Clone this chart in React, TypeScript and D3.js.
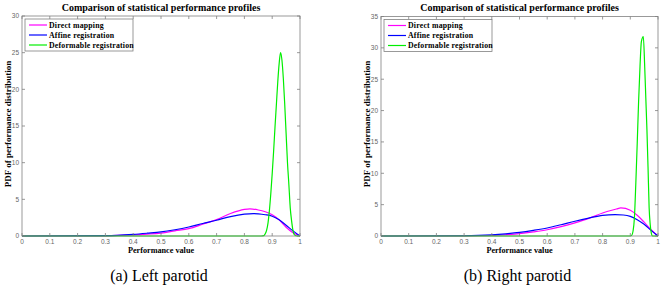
import React from "react";
import * as d3 from "d3";

// ---------- data ----------
const xTickValues = [0, 0.1, 0.2, 0.3, 0.4, 0.5, 0.6, 0.7, 0.8, 0.9, 1];
const seriesNames = ["Direct mapping", "Affine registration", "Deformable registration"];
const seriesColors = ["#ff00ff", "#0000ff", "#00ee00"];

// Left parotid
const leftDirectX = [0, 0.3, 0.4, 0.45, 0.5, 0.55, 0.6, 0.65, 0.7, 0.75, 0.8, 0.82, 0.85, 0.875, 0.9, 0.925, 0.95, 0.975, 1];
const leftDirectY = [0, 0.03, 0.14, 0.25, 0.4, 0.7, 1.0, 1.6, 2.24, 3.06, 3.62, 3.7, 3.55, 3.3, 2.9, 2.2, 1.2, 0.45, 0];
const leftAffineX = [0, 0.3, 0.4, 0.45, 0.5, 0.55, 0.6, 0.65, 0.7, 0.75, 0.8, 0.832, 0.85, 0.875, 0.9, 0.925, 0.95, 0.975, 1];
const leftAffineY = [0, 0.05, 0.23, 0.38, 0.55, 0.85, 1.23, 1.7, 2.15, 2.65, 2.98, 3.06, 3.02, 2.9, 2.7, 2.2, 1.46, 0.7, 0];
const leftDeformX = [0, 0.86, 0.87, 0.875, 0.88, 0.885, 0.89, 0.895, 0.9, 0.905, 0.91, 0.915, 0.92, 0.925, 0.93, 0.935, 0.94, 0.945, 0.95, 0.955, 0.96, 0.965, 0.97, 0.975, 0.98, 0.99, 1];
const leftDeformY = [0, 0, 0.05, 0.3, 0.8, 1.8, 3.5, 5.8, 8.5, 11.5, 14.8, 17.9, 21, 23.5, 25, 24, 21.5, 18, 14, 10, 7, 3.8, 2, 0.7, 0.15, 0, 0];

// Right parotid
const rightDirectX = [0, 0.3, 0.4, 0.45, 0.5, 0.55, 0.6, 0.65, 0.7, 0.75, 0.8, 0.85, 0.866, 0.9, 0.925, 0.95, 0.975, 1];
const rightDirectY = [0, 0.01, 0.08, 0.2, 0.37, 0.65, 1.0, 1.5, 2.1, 2.8, 3.67, 4.3, 4.47, 4.1, 3.3, 2.2, 1.0, 0];
const rightAffineX = [0, 0.3, 0.4, 0.45, 0.5, 0.55, 0.6, 0.65, 0.7, 0.75, 0.8, 0.845, 0.875, 0.9, 0.925, 0.95, 0.975, 1];
const rightAffineY = [0, 0.04, 0.18, 0.35, 0.58, 0.9, 1.28, 1.8, 2.35, 2.85, 3.3, 3.4, 3.35, 3.14, 2.6, 1.86, 0.9, 0];
const rightDeformX = [0, 0.9, 0.905, 0.91, 0.915, 0.92, 0.925, 0.93, 0.935, 0.94, 0.947, 0.952, 0.956, 0.96, 0.964, 0.968, 0.972, 0.976, 0.98, 1];
const rightDeformY = [0, 0, 0.1, 0.8, 3, 8.5, 14.8, 21.5, 27, 31, 31.8, 27, 22, 17, 11, 4.5, 1.8, 0.4, 0, 0];

const leftYTicks = [0, 5, 10, 15, 20, 25, 30];
const rightYTicks = [0, 5, 10, 15, 20, 25, 30, 35];

const titleText = "Comparison of statistical performance profiles";
const xLabelText = "Performance value";
const yLabelText = "PDF of performance distribution";

const panels = [
  {
    caption: "(a) Left parotid",
    left: 22, right: 300, top: 16, bottom: 236,
    yMax: 30, yTicks: leftYTicks,
    series: [
      { x: leftDirectX, y: leftDirectY },
      { x: leftAffineX, y: leftAffineY },
      { x: leftDeformX, y: leftDeformY },
    ],
  },
  {
    caption: "(b) Right parotid",
    left: 381, right: 658, top: 16.5, bottom: 236,
    yMax: 35, yTicks: rightYTicks,
    series: [
      { x: rightDirectX, y: rightDirectY },
      { x: rightAffineX, y: rightAffineY },
      { x: rightDeformX, y: rightDeformY },
    ],
  },
];

const serif = "'Liberation Serif', 'Times New Roman', serif";
const sans = "'Liberation Sans', Arial, sans-serif";
const axisColor = "#808080";
const tickLabelColor = "#666";

function Panel({ p }: { p: (typeof panels)[number] }) {
  const x = d3.scaleLinear().domain([0, 1]).range([p.left, p.right]);
  const y = d3.scaleLinear().domain([0, p.yMax]).range([p.bottom, p.top]);
  const line = d3
    .line<[number, number]>()
    .x((d) => x(d[0]))
    .y((d) => y(d[1]))
    .curve(d3.curveMonotoneX);
  const cx = (p.left + p.right) / 2;
  const tl = 3;
  const legX = p.left + 3;
  const legY = p.top + 3;
  return (
    <g>
      <rect x={p.left} y={p.top} width={p.right - p.left} height={p.bottom - p.top} fill="white" />
      {p.series.map((s, i) => (
        <path
          key={i}
          d={line(s.x.map((v, k) => [v, s.y[k]] as [number, number])) || ""}
          fill="none"
          stroke={seriesColors[i]}
          strokeWidth={1.2}
        />
      ))}
      <rect x={p.left} y={p.top} width={p.right - p.left} height={p.bottom - p.top} fill="none" stroke={axisColor} strokeWidth={0.8} />
      {xTickValues.map((t) => (
        <g key={"x" + t}>
          <line x1={x(t)} x2={x(t)} y1={p.bottom} y2={p.bottom - tl} stroke={axisColor} strokeWidth={0.8} />
          <line x1={x(t)} x2={x(t)} y1={p.top} y2={p.top + tl} stroke={axisColor} strokeWidth={0.8} />
          <text x={x(t)} y={p.bottom + 8} fontSize={6.5} fontFamily={sans} fill={tickLabelColor} textAnchor="middle">
            {String(t)}
          </text>
        </g>
      ))}
      {p.yTicks.map((t) => (
        <g key={"y" + t}>
          <line x1={p.left} x2={p.left + tl} y1={y(t)} y2={y(t)} stroke={axisColor} strokeWidth={0.8} />
          <line x1={p.right} x2={p.right - tl} y1={y(t)} y2={y(t)} stroke={axisColor} strokeWidth={0.8} />
          <text x={p.left - 3} y={y(t) + 2.3} fontSize={6.5} fontFamily={sans} fill={tickLabelColor} textAnchor="end">
            {String(t)}
          </text>
        </g>
      ))}
      <text x={cx} y={11} fontSize={10} fontWeight="bold" fontFamily={serif} textAnchor="middle">
        {titleText}
      </text>
      <text x={cx} y={p.bottom + 17} fontSize={8.2} fontWeight="bold" fontFamily={serif} textAnchor="middle">
        {xLabelText}
      </text>
      <text
        transform={`translate(${p.left - 11},${124}) rotate(-90)`}
        fontSize={9}
        fontWeight="bold"
        fontFamily={serif}
        textAnchor="middle"
      >
        {yLabelText}
      </text>
      <g>
        <rect x={legX} y={legY} width={108} height={32} fill="white" stroke={axisColor} strokeWidth={0.8} />
        {seriesNames.map((n, i) => (
          <g key={n}>
            <line x1={legX + 4} x2={legX + 22} y1={legY + 6 + i * 10} y2={legY + 6 + i * 10} stroke={seriesColors[i]} strokeWidth={1.2} />
            <text x={legX + 24} y={legY + 8.8 + i * 10} fontSize={7.8} fontWeight="bold" fontFamily={serif} letterSpacing={0.2}>
              {n}
            </text>
          </g>
        ))}
      </g>
      <text x={cx - 2} y={281} fontSize={16} fontFamily={serif} textAnchor="middle">
        {p.caption}
      </text>
    </g>
  );
}

export default function App() {
  return (
    <svg width={664} height={289} style={{ position: "absolute", left: 0, top: 0 }}>
      <rect width={664} height={289} fill="white" />
      {panels.map((p, i) => (
        <Panel key={i} p={p} />
      ))}
    </svg>
  );
}
